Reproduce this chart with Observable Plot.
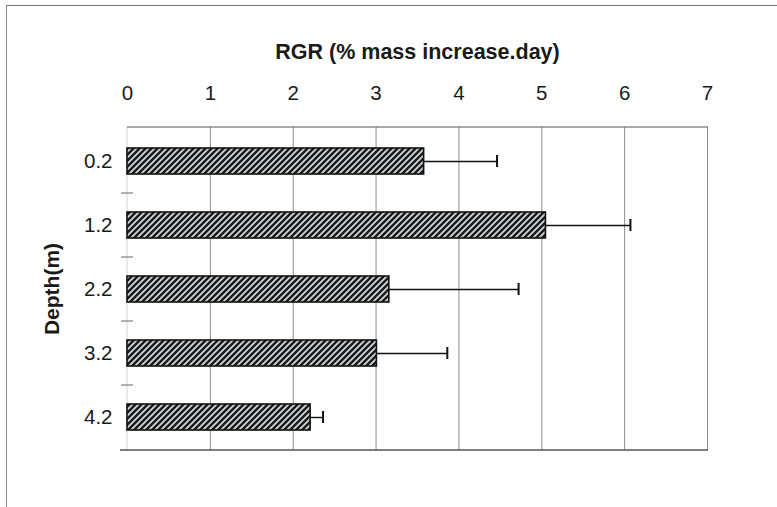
<!DOCTYPE html>
<html>
<head>
<meta charset="utf-8">
<script src="https://cdn.jsdelivr.net/npm/d3@7"></script>
<script src="https://cdn.jsdelivr.net/npm/@observablehq/plot@0.6"></script>
<style>
  html, body { margin: 0; padding: 0; background: #fff; }
  #wrap { position: relative; width: 777px; height: 507px; overflow: hidden; background: #fff; }
  #border { position: absolute; left: 6px; top: 5px; right: -10px; bottom: -10px;
            border-left: 1px solid #8a8a8a; border-top: 1.5px solid #777; }
  #chart { position: absolute; left: 0; top: 0; }
</style>
</head>
<body>
<div id="wrap"><div id="border"></div><div id="chart"></div></div>
<script>
// Relative growth rate by depth, mean with standard error
const depths = ["0.2", "1.2", "2.2", "3.2", "4.2"];
const rgr = [3.58, 5.05, 3.16, 3.01, 2.21];
const se = [0.88, 1.02, 1.56, 0.85, 0.15];
const xTicks = [0, 1, 2, 3, 4, 5, 6, 7];
const title = "RGR (% mass increase.day)";
const yTitle = "Depth(m)";

const rows = depths.map((d, i) => ({depth: d, rgr: rgr[i], se: se[i], hi: rgr[i] + se[i]}));

// Top and bottom borders of the plot area, faint left axis, and small ticks
// marking the boundaries between depth bands.
function plotLines(index, scales, values, dims) {
  const {y} = scales;
  const g = d3.create("svg:g");
  const left = dims.marginLeft, right = dims.width - dims.marginRight;
  const top = dims.marginTop, bottom = dims.height - dims.marginBottom;
  g.append("line").attr("x1", left).attr("x2", left).attr("y1", top).attr("y2", bottom)
    .attr("stroke", "#d4d4d4").attr("stroke-width", 1);
  g.append("line").attr("x1", left).attr("x2", right + 1).attr("y1", top).attr("y2", top)
    .attr("stroke", "#555").attr("stroke-width", 1.2);
  g.append("line").attr("x1", left - 7).attr("x2", right + 1).attr("y1", bottom).attr("y2", bottom)
    .attr("stroke", "#555").attr("stroke-width", 1.4);
  depths.slice(1).forEach(d => {
    const yy = y(d) + y.bandwidth() / 2 - y.step() / 2;
    g.append("line").attr("x1", left - 6).attr("x2", left + 6).attr("y1", yy).attr("y2", yy)
      .attr("stroke", "#666").attr("stroke-width", 1);
  });
  return g.node();
}

const chart = Plot.plot({
  width: 777,
  height: 507,
  marginLeft: 127,
  marginRight: 70,
  marginTop: 127,
  marginBottom: 57,
  style: {fontFamily: "'Liberation Sans', Arial, sans-serif", fontSize: "20.5px", color: "#1a1a1a", background: "transparent"},
  x: {domain: [0, 7], ticks: xTicks, axis: "top", label: null, tickSize: 0, tickPadding: 28, tickFormat: d3.format("d")},
  y: {domain: depths, axis: "left", label: null, tickSize: 0, tickPadding: 15, paddingInner: 0.6, paddingOuter: 0.3},
  marks: [
    Plot.ruleX(xTicks.slice(1), {stroke: "#8c8c8c", strokeWidth: 1}),
    plotLines,
    Plot.barX(rows, {x: "rgr", y: "depth", fill: "url(#hatch)", stroke: "#111", strokeWidth: 1.6}),
    Plot.ruleY(rows, {y: "depth", x1: "rgr", x2: "hi", stroke: "#111", strokeWidth: 1.4}),
    Plot.tickX(rows, {x: "hi", y: "depth", insetTop: 7, insetBottom: 7, stroke: "#111", strokeWidth: 2}),
    Plot.text([title], {text: d => d, frameAnchor: "top", lineAnchor: "middle", textAnchor: "middle", dy: -75, fontWeight: "bold", fontSize: 21.5, fill: "#1a1a1a"}),
    Plot.text([yTitle], {text: d => d, frameAnchor: "left", lineAnchor: "middle", textAnchor: "middle", dx: -75, rotate: -90, fontWeight: "bold", fontSize: 21, fill: "#1a1a1a"})
  ]
});

// Diagonal hatch fill used by the bars
d3.select(chart).insert("defs", ":first-child").html(
  '<pattern id="hatch" patternUnits="userSpaceOnUse" width="6" height="6">' +
  '<rect width="6" height="6" fill="#d2d9dd"/>' +
  '<path d="M-1,1 l2,-2 M0,6 l6,-6 M5,7 l2,-2" stroke="#1b1b1b" stroke-width="2.5"/>' +
  '</pattern>'
);

document.getElementById("chart").appendChild(chart);
</script>
</body>
</html>
